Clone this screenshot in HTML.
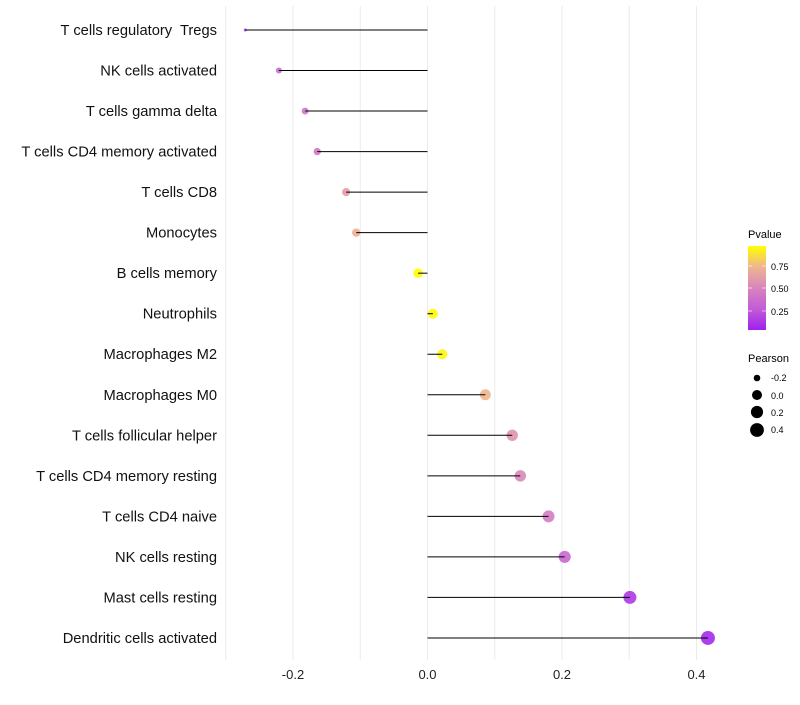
<!DOCTYPE html>
<html><head><meta charset="utf-8"><style>
body{margin:0;background:#fff;font-family:"Liberation Sans",sans-serif}
</style></head><body>
<svg id="chart" width="800" height="700" xmlns="http://www.w3.org/2000/svg">
<defs><linearGradient id="pg" x1="0" y1="1" x2="0" y2="0">
<stop offset="0" stop-color="#A020F0"/><stop offset="0.25" stop-color="#C25CD6"/><stop offset="0.5" stop-color="#D884BE"/><stop offset="0.75" stop-color="#EEB68E"/><stop offset="1" stop-color="#FFFF00"/></linearGradient></defs>
<g id="grid"></g><g id="marks"></g><g id="labels"></g>
<g font-size="10">
<text x="748" y="238" font-size="11">Pvalue</text>
<rect x="748" y="246" width="18" height="84" fill="url(#pg)"/>
<line x1="748" x2="752" y1="266" y2="266" stroke="#fff" opacity="0.6"/><line x1="762" x2="766" y1="266" y2="266" stroke="#fff" opacity="0.6"/>
<line x1="748" x2="752" y1="288" y2="288" stroke="#fff" opacity="0.6"/><line x1="762" x2="766" y1="288" y2="288" stroke="#fff" opacity="0.6"/>
<line x1="748" x2="752" y1="311" y2="311" stroke="#fff" opacity="0.6"/><line x1="762" x2="766" y1="311" y2="311" stroke="#fff" opacity="0.6"/>
<text x="771" y="270" font-size="9">0.75</text><text x="771" y="292" font-size="9">0.50</text><text x="771" y="315" font-size="9">0.25</text>
<text x="748" y="362" font-size="11">Pearson</text>
<circle cx="757" cy="378" r="3.3" fill="#000"/><text x="771" y="381" font-size="9">-0.2</text>
<circle cx="757" cy="395" r="5" fill="#000"/><text x="771" y="399" font-size="9">0.0</text>
<circle cx="757" cy="412" r="6.1" fill="#000"/><text x="771" y="416" font-size="9">0.2</text>
<circle cx="757" cy="430" r="6.9" fill="#000"/><text x="771" y="433" font-size="9">0.4</text>
</g>
</svg>
<script>
const categories=["T cells regulatory  Tregs","NK cells activated","T cells gamma delta","T cells CD4 memory activated","T cells CD8","Monocytes","B cells memory","Neutrophils","Macrophages M2","Macrophages M0","T cells follicular helper","T cells CD4 memory resting","T cells CD4 naive","NK cells resting","Mast cells resting","Dendritic cells activated"];
const pearson=[-0.271,-0.221,-0.182,-0.164,-0.121,-0.106,-0.014,0.008,0.022,0.086,0.126,0.138,0.180,0.204,0.301,0.417];
const pvalues=[0.12,0.35,0.42,0.42,0.62,0.72,1.0,0.98,0.97,0.75,0.58,0.52,0.45,0.32,0.1,0.04];
const xTicks=[-0.2,0.0,0.2,0.4];
const xTickLabels=["-0.2","0.0","0.2","0.4"];
const ns="http://www.w3.org/2000/svg";
const X=v=>427.5+v*672.5;
const Y=i=>30+i*40.53;
const pmin=-0.271,pmax=0.417;
const R=v=>1.5+5.5*Math.sqrt(Math.max(0,(v-pmin)/(pmax-pmin)));
const stops=[[0,[160,32,240]],[0.25,[194,92,214]],[0.5,[216,132,190]],[0.75,[238,182,142]],[1,[255,255,0]]];
function col(p){p=Math.max(0,Math.min(1,p));for(let k=1;k<stops.length;k++){if(p<=stops[k][0]){const a=stops[k-1],b=stops[k],t=(p-a[0])/(b[0]-a[0]);return "rgb("+a[1].map((c,j)=>Math.round(c+(b[1][j]-c)*t)).join(",")+")";}}return "rgb(255,255,0)";}
function mk(t,a,p){const e=document.createElementNS(ns,t);for(const k in a)e.setAttribute(k,a[k]);p.appendChild(e);return e;}
const grid=document.getElementById('grid'),marks=document.getElementById('marks'),labels=document.getElementById('labels');
for(let k=-3;k<=4;k++){const x=X(k/10);const g=mk('line',{x1:x,x2:x,y1:6,y2:660,stroke:'#ebebeb','stroke-width':1},grid);

}
xTicks.forEach((v,i)=>{const t=mk('text',{x:X(v),y:679,'text-anchor':'middle','font-size':13,fill:'#222'},labels);t.textContent=xTickLabels[i];

});
categories.forEach((c,i)=>{const y=Y(i);
const t=mk('text',{x:217,y:y+5,'text-anchor':'end','font-size':14.7,fill:'#111','xml:space':'preserve',style:'white-space:pre'},labels);t.textContent=c;


const d=mk('circle',{cx:X(pearson[i]),cy:y,r:R(pearson[i]),fill:col(pvalues[i]),opacity:0.9},marks);


const l=mk('line',{x1:X(0),x2:X(pearson[i]),y1:y,y2:y,stroke:'#000','stroke-width':1},marks);

});
</script>
</body></html>
